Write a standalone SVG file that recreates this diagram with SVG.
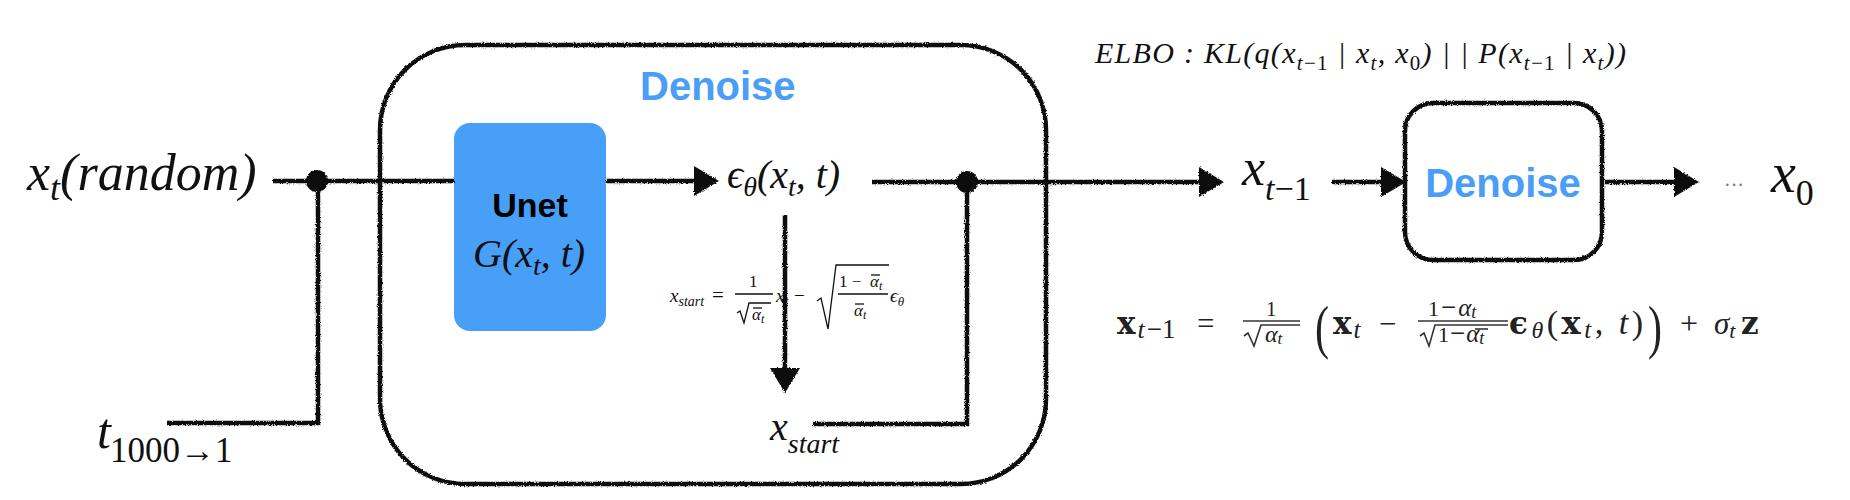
<svg xmlns="http://www.w3.org/2000/svg" width="1850" height="500" viewBox="0 0 1850 500">
<style>
.m{font-family:"Liberation Serif","Times New Roman",serif;font-style:italic;fill:#111}
.r{font-family:"Liberation Serif","Times New Roman",serif;font-style:normal;fill:#111}
.b{font-family:"DejaVu Serif",serif;font-weight:bold;font-style:normal;fill:#222}
.g{fill:#222}
.it{font-family:"Liberation Serif","Times New Roman",serif;font-style:italic;font-weight:normal}
.up{font-family:"Liberation Serif","Times New Roman",serif;font-style:normal;font-weight:normal}
.sans{font-family:"Liberation Sans",Arial,sans-serif;font-weight:bold}
.ln{fill:none;stroke:#111;stroke-width:4.5;stroke-linejoin:miter}
.thin{fill:none;stroke:#111;stroke-width:1.3}
.thin2{fill:none;stroke:#333;stroke-width:1.6}
.box{fill:none;stroke:#111;stroke-width:4.5}
</style>
<defs>
<marker id="ah" markerUnits="userSpaceOnUse" markerWidth="26" markerHeight="30" refX="12" refY="15" orient="auto">
<path d="M0,0 L25,15 L0,30 Z" fill="#111"/>
</marker>
<filter id="rough" filterUnits="userSpaceOnUse" x="0" y="0" width="1850" height="500">
<feTurbulence type="fractalNoise" baseFrequency="0.9" numOctaves="2" seed="4"/>
<feDisplacementMap in="SourceGraphic" scale="3" xChannelSelector="R" yChannelSelector="G"/>
</filter>
</defs>

<g id="big-denoise">
<rect class="box" x="380" y="45" width="666" height="439" rx="85" filter="url(#rough)"/>
<text class="sans" x="640" y="100" font-size="40" fill="#4A9EF5">Denoise</text>
</g>

<g id="unet">
<rect x="454" y="123" width="152" height="208" rx="16" fill="#479FF8"/>
<text class="sans" x="530" y="217" font-size="34" fill="#000" text-anchor="middle">Unet</text>
<text class="m" x="473" y="267" font-size="40">G(x<tspan font-size="28" dy="8">t</tspan><tspan dy="-8">, t)</tspan></text>
</g>

<g id="xt-random">
<text class="m" x="27" y="190" font-size="52">x<tspan font-size="36" dy="10">t</tspan><tspan dy="-10">(random)</tspan></text>
</g>

<g id="t-range">
<text class="m" x="97" y="448" font-size="50">t</text>
<text class="r" x="110" y="462" font-size="35">1000→1</text>
</g>

<g id="eps">
<text class="m" x="727" y="188" font-size="40">ϵ<tspan font-size="28" dy="8">θ</tspan><tspan dy="-8">(x</tspan><tspan font-size="28" dy="8">t</tspan><tspan dy="-8">, t)</tspan></text>
</g>

<g id="xstart-formula">
<text class="m" x="670" y="302" font-size="19">x<tspan font-size="14" dy="4">start</tspan></text>
<text class="r" x="712" y="302" font-size="21">=</text>
<text class="r" x="749" y="287" font-size="17">1</text>
<line class="thin" x1="735" y1="294" x2="773" y2="294"/>
<path class="thin" d="M737,313 L740,311 L744,323 L749,303 L771,303"/>
<text class="m" x="752" y="320" font-size="17">α<tspan font-size="12" dy="3">t</tspan></text>
<line class="thin" x1="753" y1="308" x2="762" y2="308"/>
<text class="m" x="776" y="302" font-size="19">x<tspan font-size="14" dy="4">t</tspan></text>
<text class="r" x="794" y="302" font-size="19">−</text>
<path class="thin" d="M817,301 L821,298 L828,329 L836,265 L889,265"/>
<text class="r" x="839" y="287" font-size="17">1 − </text>
<text class="m" x="870" y="287" font-size="17">α<tspan font-size="12" dy="3">t</tspan></text>
<line class="thin" x1="871" y1="275" x2="880" y2="275"/>
<line class="thin" x1="838" y1="294" x2="888" y2="294"/>
<text class="m" x="854" y="316" font-size="17">α<tspan font-size="12" dy="3">t</tspan></text>
<line class="thin" x1="855" y1="304" x2="864" y2="304"/>
<text class="m" x="890" y="302" font-size="19">ϵ<tspan font-size="13" dy="4">θ</tspan></text>
</g>

<g id="xstart">
<text class="m" x="770" y="440" font-size="40">x<tspan font-size="28" dy="13">start</tspan></text>
</g>

<g id="xt1">
<text class="m" x="1242" y="185" font-size="52">x<tspan font-size="34" dy="15">t</tspan><tspan font-size="34" style="font-style:normal">−1</tspan></text>
</g>

<g id="small-denoise">
<rect class="box" x="1405" y="103" width="197" height="157" rx="28" filter="url(#rough)"/>
<text class="sans" x="1503" y="197" font-size="40" fill="#4A9EF5" text-anchor="middle">Denoise</text>
</g>

<g id="dots">
<text class="r" x="1724" y="192" font-size="20" style="fill:#777">···</text>
</g>

<g id="x0">
<text class="m" x="1771" y="192" font-size="56">x<tspan font-size="36" dy="13" style="font-style:normal">0</tspan></text>
</g>

<g id="elbo">
<text class="m" x="1095" y="63" font-size="30" textLength="531" lengthAdjust="spacing">ELBO : KL(q(x<tspan font-size="21" dy="7">t</tspan><tspan font-size="21" style="font-style:normal">−1</tspan><tspan dy="-7"> | x</tspan><tspan font-size="21" dy="7">t</tspan><tspan dy="-7">, x</tspan><tspan font-size="21" dy="7" style="font-style:normal">0</tspan><tspan dy="-7">) | | P(x</tspan><tspan font-size="21" dy="7">t</tspan><tspan font-size="21" style="font-style:normal">−1</tspan><tspan dy="-7"> | x</tspan><tspan font-size="21" dy="7">t</tspan><tspan dy="-7">))</tspan></text>
</g>

<g id="sampling-formula">
<text class="b" x="1117" y="334" font-size="31">x<tspan class="it" font-size="26" dy="4" dx="2">t</tspan><tspan class="up" font-size="27" dx="2">−1</tspan></text>
<text class="r g" x="1197" y="334" font-size="31">=</text>
<text class="r g" x="1266" y="316" font-size="21">1</text>
<line class="thin2" x1="1243" y1="321" x2="1300" y2="321"/>
<path class="thin2" d="M1244,336 L1248,333 L1254,346 L1261,325 L1300,325"/>
<text class="m g" x="1265" y="342" font-size="24">α<tspan font-size="17" dy="2">t</tspan></text>
<text class="r g" x="1315" y="347" font-size="60" textLength="14" lengthAdjust="spacingAndGlyphs">(</text>
<text class="b" x="1333" y="334" font-size="31">x<tspan class="it" font-size="25" dy="4" dx="2">t</tspan></text>
<text class="r g" x="1379" y="334" font-size="31">−</text>
<text class="r g" x="1428" y="316" font-size="22">1<tspan font-size="27" dx="2">−</tspan><tspan class="it" font-size="25" dx="2">α</tspan><tspan class="it" font-size="18" dy="2">t</tspan></text>
<line class="thin2" x1="1418" y1="321" x2="1508" y2="321"/>
<path class="thin2" d="M1420,336 L1424,333 L1429,346 L1435,325 L1508,325"/>
<text class="r g" x="1438" y="342" font-size="22">1<tspan font-size="27" dx="1">−</tspan><tspan class="it" font-size="25" dx="1">α</tspan><tspan class="it" font-size="18" dy="2">t</tspan></text>
<line class="thin2" x1="1475" y1="329" x2="1488" y2="329"/>
<text class="b" x="1509" y="334" font-size="31" textLength="134" lengthAdjust="spacing">ϵ<tspan class="it" font-size="24" dy="4">θ</tspan><tspan class="up" font-size="34" dy="-4">(</tspan><tspan font-size="32">x</tspan><tspan class="it" font-size="25" dy="4">t</tspan><tspan class="up" font-size="34" dy="-4">, </tspan><tspan class="it" font-size="34">t</tspan><tspan class="up" font-size="34">)</tspan></text>
<text class="r g" x="1648" y="347" font-size="60" textLength="14" lengthAdjust="spacingAndGlyphs">)</text>
<text class="r g" x="1680" y="334" font-size="32">+</text>
<text class="m g" x="1714" y="334" font-size="31">σ<tspan font-size="22" dy="4">t</tspan></text>
<text class="b" x="1741" y="334" font-size="31">z</text>
</g>

<g id="connectors" filter="url(#rough)">
<line class="ln" x1="273" y1="181" x2="454" y2="181"/>
<circle cx="317" cy="181" r="11" fill="#111"/>
<polyline class="ln" points="167,423 318,423 318,181"/>
<line class="ln" x1="606" y1="181" x2="706" y2="181" marker-end="url(#ah)"/>
<line class="ln" x1="785" y1="215" x2="785" y2="380" marker-end="url(#ah)"/>
<line class="ln" x1="872" y1="182" x2="1211" y2="182" marker-end="url(#ah)"/>
<circle cx="967" cy="182" r="11" fill="#111"/>
<polyline class="ln" points="813,424 967,424 967,182"/>
<line class="ln" x1="1332" y1="182" x2="1393" y2="182" marker-end="url(#ah)"/>
<line class="ln" x1="1605" y1="182" x2="1686" y2="182" marker-end="url(#ah)"/>
</g>
</svg>
